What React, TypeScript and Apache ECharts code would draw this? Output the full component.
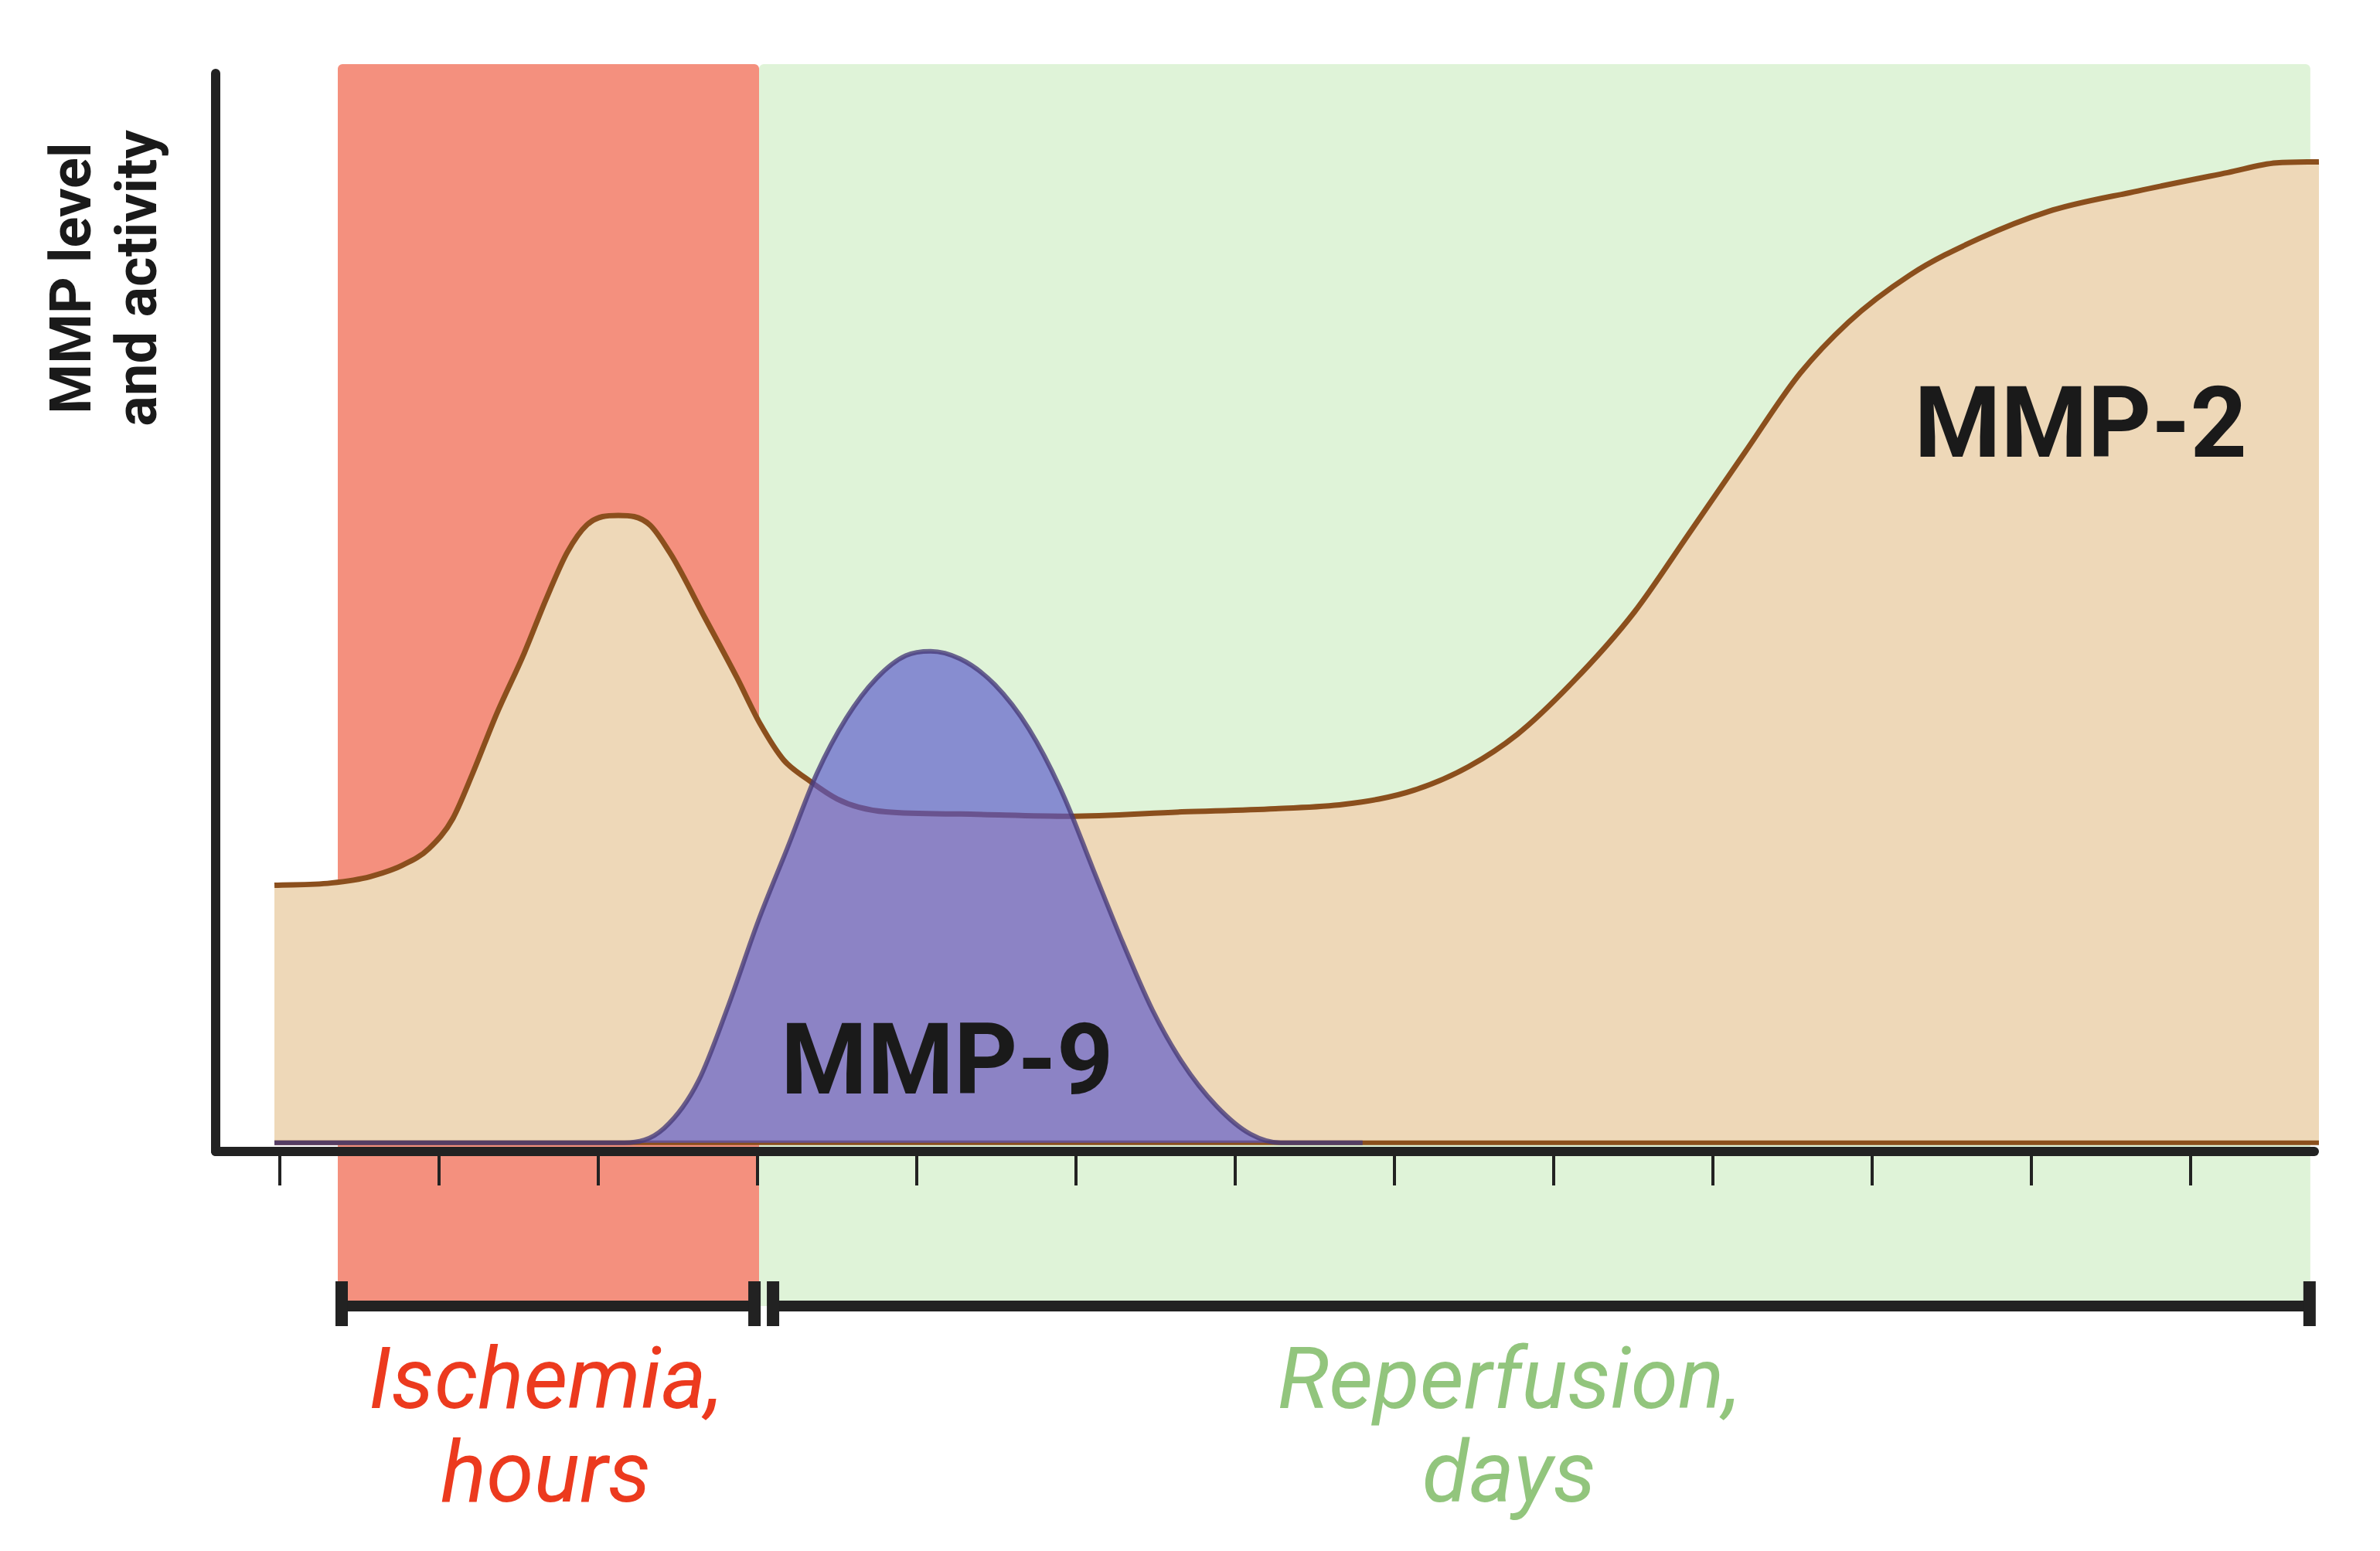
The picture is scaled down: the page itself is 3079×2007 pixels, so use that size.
import React, { useEffect, useRef } from "react";
import * as echarts from "echarts";

// x in "tick units" (13 ticks along the time axis), y in arbitrary level units (0..100)
const TICKS = [0, 1, 2, 3, 4, 5, 6, 7, 8, 9, 10, 11, 12];
const X_MIN = -0.403;
const X_MAX = 12.777;
const Y_MIN = 0;
const Y_MAX = 100;
const BASE = 0.8; // level of the curves' common bottom edge

const MMP2_X = [-0.034, 0.32, 0.568, 0.762, 0.937, 1.087, 1.209, 1.359, 1.534, 1.68, 1.806, 1.927, 2.126, 2.325, 2.447, 2.67, 2.869, 3.019, 3.165, 3.316, 3.5, 3.806, 4.272, 4.951, 5.665, 6.252, 6.684, 7.121, 7.466, 7.772, 8.117, 8.505, 8.854, 9.199, 9.549, 9.85, 10.238, 10.675, 11.107, 11.67, 12.233, 12.539, 12.806];
const MMP2_Y = [24.7, 24.9, 25.5, 26.5, 28.1, 30.9, 35.0, 40.5, 46.2, 51.5, 55.6, 58.1, 59.0, 58.1, 55.6, 49.5, 44.0, 39.6, 36.3, 34.5, 32.7, 31.5, 31.3, 31.1, 31.5, 31.8, 32.2, 33.5, 35.7, 38.7, 43.5, 50.0, 57.4, 64.8, 72.2, 76.9, 81.3, 84.7, 87.2, 89.1, 90.8, 91.7, 91.8];

const MMP9_X = [-0.034, 2.165, 2.413, 2.631, 2.816, 3.005, 3.189, 3.374, 3.558, 3.748, 3.932, 4.087, 4.272, 4.49, 4.704, 4.922, 5.107, 5.296, 5.481, 5.665, 5.883, 6.097, 6.286, 6.8];
const MMP9_Y = [0.8, 0.8, 2.15, 6.6, 13.5, 21.4, 28.2, 35.1, 40.2, 43.9, 46.0, 46.4, 45.7, 43.3, 39.2, 33.0, 26.2, 19.3, 13.1, 8.3, 4.2, 1.6, 0.8, 0.8];

const LABEL_TEXT = ["MMP-2", "MMP-9"];
const LABEL_X = [11.31, 4.19];
const LABEL_Y = [67.6, 8.5];

const PHASE_LINE1 = ["Ischemia,", "Reperfusion,"];
const PHASE_LINE2 = ["hours", "days"];
const PHASE_START = [0.364, 3.01];
const PHASE_END = [3.01, 12.752];
const PHASE_LABEL_X = [1.67, 7.72];

const Y_TITLE = ["MMP level", "and activity"];

const AXIS_COLOR = "#222222";
const BROWN = "#8B4F1D";
const BEIGE = "#EED8B8";
const MMP9_FILL = "rgba(88,86,205,0.65)";
const MMP9_STROKE = "rgba(70,58,120,0.78)";
const PHASE_FILL = ["#F4907E", "#DFF3D8"];
const PHASE_TEXT = ["#EC3A1E", "#92C57D"];

// Fritsch–Carlson monotone cubic path through pixel points (x increasing)
function monotonePath(p: number[][]): string {
  const n = p.length;
  const h: number[] = [];
  const d: number[] = [];
  for (let k = 0; k < n - 1; k++) {
    h[k] = p[k + 1][0] - p[k][0];
    d[k] = (p[k + 1][1] - p[k][1]) / h[k];
  }
  const m: number[] = new Array(n).fill(0);
  m[0] = d[0];
  m[n - 1] = d[n - 2];
  for (let k = 1; k < n - 1; k++) {
    if (d[k - 1] * d[k] <= 0) m[k] = 0;
    else m[k] = (d[k - 1] * h[k] + d[k] * h[k - 1]) / (h[k - 1] + h[k]);
  }
  for (let k = 0; k < n - 1; k++) {
    if (d[k] === 0) {
      m[k] = 0;
      m[k + 1] = 0;
      continue;
    }
    const a = m[k] / d[k];
    const b = m[k + 1] / d[k];
    const s = a * a + b * b;
    if (s > 9) {
      const tau = 3 / Math.sqrt(s);
      m[k] = tau * a * d[k];
      m[k + 1] = tau * b * d[k];
    }
  }
  let path = `M${p[0][0]},${p[0][1]}`;
  for (let k = 1; k < n; k++) {
    const t = h[k - 1] / 3;
    path += ` C${p[k - 1][0] + t},${p[k - 1][1] + t * m[k - 1]} ${p[k][0] - t},${p[k][1] - t * m[k]} ${p[k][0]},${p[k][1]}`;
  }
  return path;
}

function areaSeries(name: string, xs: number[], ys: number[], fill: string, stroke: string, width: number, z: number, withBase: boolean) {
  return {
    type: "custom",
    name,
    coordinateSystem: "cartesian2d",
    data: xs.map((x, i) => [x, ys[i]]),
    encode: { x: 0, y: 1 },
    clip: false,
    z,
    silent: true,
    renderItem: (params: any, api: any) => {
      if (params.dataIndex !== 0) return null;
      const pts = xs.map((x, i) => api.coord([x, ys[i]]) as number[]);
      const base = (api.coord([xs[0], BASE]) as number[])[1];
      const curve = monotonePath(pts);
      const last = pts[pts.length - 1];
      const children: any[] = [
        {
          type: "path",
          shape: { pathData: `${curve} L${last[0]},${base} L${pts[0][0]},${base} Z` },
          style: { fill, stroke: "none" },
        },
        {
          type: "path",
          shape: { pathData: curve },
          style: { fill: "none", stroke, lineWidth: width, lineJoin: "round", lineCap: "butt" },
        },
      ];
      if (withBase) {
        children.push({
          type: "line",
          shape: { x1: pts[0][0], y1: base, x2: last[0], y2: base },
          style: { stroke, lineWidth: width - 1 },
        });
      }
      return { type: "group", children };
    },
  };
}

export default function App() {
  const ref = useRef<HTMLDivElement>(null);
  useEffect(() => {
    const chart = echarts.init(ref.current!, null, { renderer: "svg" });
    chart.setOption({
      animation: false,
      backgroundColor: "#ffffff",
      grid: { left: 279, right: 85, top: 95, bottom: 517, containLabel: false },
      xAxis: {
        type: "value",
        min: X_MIN,
        max: X_MAX,
        axisLine: { show: true, onZero: false, lineStyle: { color: AXIS_COLOR, width: 12 } },
        axisTick: { show: true, customValues: TICKS, length: 44, lineStyle: { color: AXIS_COLOR, width: 4 } },
        axisLabel: { show: false },
        splitLine: { show: false },
      },
      yAxis: {
        type: "value",
        min: Y_MIN,
        max: Y_MAX,
        axisLine: { show: true, onZero: false, lineStyle: { color: AXIS_COLOR, width: 12 } },
        axisTick: { show: false },
        axisLabel: { show: false },
        splitLine: { show: false },
      },
      series: [
        areaSeries("MMP-2", MMP2_X, MMP2_Y, BEIGE, BROWN, 7, 2, true),
        areaSeries("MMP-9", MMP9_X, MMP9_Y, MMP9_FILL, MMP9_STROKE, 6, 4, false),
      ],
    });

    const pt = (u: number, v: number) => chart.convertToPixel({ gridIndex: 0 }, [u, v]) as number[];
    const px = (u: number) => pt(u, 0)[0];

    const RECT_TOP = 83;
    const BRACKET_Y = 1690;
    const elements: any[] = [];

    PHASE_START.forEach((s, i) => {
      const x0 = px(s);
      const x1 = px(PHASE_END[i]);
      elements.push({
        type: "rect",
        z: -1,
        shape: { x: x0, y: RECT_TOP, width: x1 - x0, height: BRACKET_Y - RECT_TOP, r: [6, 6, 0, 0] },
        style: { fill: PHASE_FILL[i] },
      });
      const inL = i === 0 ? 5 : 18;
      const inR = i === 0 ? 6 : 1;
      const c0 = x0 + inL;
      const c1 = x1 - inR;
      elements.push({
        type: "line",
        z: 10,
        shape: { x1: c0, y1: BRACKET_Y, x2: c1, y2: BRACKET_Y },
        style: { stroke: AXIS_COLOR, lineWidth: 14 },
      });
      [c0, c1].forEach((c) =>
        elements.push({
          type: "rect",
          z: 10,
          shape: { x: c - 8, y: BRACKET_Y - 32, width: 16, height: 58 },
          style: { fill: AXIS_COLOR },
        })
      );
      const lx = px(PHASE_LABEL_X[i]);
      [PHASE_LINE1[i], PHASE_LINE2[i]].forEach((t, k) =>
        elements.push({
          type: "text",
          z: 10,
          x: lx,
          y: k === 0 ? 1784 : 1905,
          style: {
            text: t,
            fill: PHASE_TEXT[i],
            fontFamily: "Roboto",
            fontStyle: "italic",
            fontWeight: 400,
            fontSize: 111,
            align: "center",
            verticalAlign: "middle",
            textAlign: "center",
            textVerticalAlign: "middle",
          },
        })
      );
    });

    LABEL_TEXT.forEach((t, i) => {
      const p = pt(LABEL_X[i], LABEL_Y[i]);
      elements.push({
        type: "text",
        z: 10,
        x: p[0],
        y: p[1],
        style: {
          text: t,
          fill: "#1a1a1a",
          fontFamily: "Roboto",
          fontWeight: "bold",
          fontSize: 128,
          align: "center",
          verticalAlign: "middle",
          textAlign: "center",
          textVerticalAlign: "middle",
        },
      });
    });

    Y_TITLE.forEach((t, k) =>
      elements.push({
        type: "text",
        z: 10,
        x: k === 0 ? 91 : 176,
        y: 360,
        rotation: Math.PI / 2,
        style: {
          text: t,
          fill: "#1a1a1a",
          fontFamily: "Roboto",
          fontWeight: "bold",
          fontSize: 74,
          align: "center",
          verticalAlign: "middle",
          textAlign: "center",
          textVerticalAlign: "middle",
        },
      })
    );

    chart.setOption({ graphic: { elements } });
    return () => chart.dispose();
  }, []);
  return (
    <div
      ref={ref}
      style={{ position: "fixed", left: 0, top: 0, width: 3079, height: 2007, background: "#ffffff" }}
    />
  );
}
